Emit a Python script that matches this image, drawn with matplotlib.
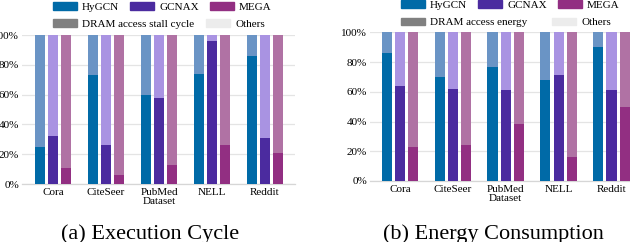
import numpy as np
import matplotlib.pyplot as plt
from matplotlib.patches import Patch

plt.rcParams['font.family'] = ['Liberation Serif', 'DejaVu Serif']

datasets = ['Cora', 'CiteSeer', 'PubMed\nDataset', 'NELL', 'Reddit']
accels = ['HyGCN', 'GCNAX', 'MEGA']

# share of DRAM access (dark part of each bar), in %
cycle_dram = {
    'HyGCN': [25, 73, 60, 74, 86],
    'GCNAX': [32, 26, 58, 96, 31],
    'MEGA': [11, 6, 13, 26, 21],
}
energy_dram = {
    'HyGCN': [86, 70, 77, 68, 90],
    'GCNAX': [64, 62, 61, 71, 61],
    'MEGA': [23, 24, 38, 16, 50],
}

dark = {'HyGCN': '#006aa7', 'GCNAX': '#4b2b9f', 'MEGA': '#922f82'}
light = {'HyGCN': '#6a94c5', 'GCNAX': '#a993e2', 'MEGA': '#b072a4'}
gray = '#808080'
others_c = '#ececec'

fig = plt.figure(figsize=(6.3, 2.42), dpi=100)

ax1 = fig.add_axes([22 / 630, 58 / 242, 273 / 630, 149 / 242])
ax2 = fig.add_axes([370 / 630, 61 / 242, 260 / 630, 148.7 / 242])

x = np.arange(len(datasets))
w = 0.19
off = 0.25


def draw(ax, data, xlim):
    for i, a in enumerate(accels):
        vals = np.array(data[a])
        pos = x + (i - 1) * off
        ax.bar(pos, vals, w, color=dark[a], zorder=3)
        ax.bar(pos, 100 - vals, w, bottom=vals, color=light[a], zorder=3)
    ax.set_ylim(0, 100)
    ax.set_xlim(*xlim)
    ax.set_yticks([0, 20, 40, 60, 80, 100])
    ax.set_yticklabels(['0%', '20%', '40%', '60%', '80%', '100%'])
    ax.set_xticks(x)
    ax.set_xticklabels(datasets, linespacing=1.0)
    ax.tick_params(axis='both', length=0, labelsize=8, pad=2)
    ax.tick_params(axis='x', pad=3)
    ax.grid(axis='y', color='#e4e4e4', linewidth=0.9, zorder=0)
    for s in ['top', 'right', 'left']:
        ax.spines[s].set_visible(False)
    ax.spines['bottom'].set_color('#d6d6d6')
    ax.spines['bottom'].set_linewidth(0.9)


draw(ax1, cycle_dram, (-0.59, 4.57))
draw(ax2, energy_dram, (-0.567, 4.35))

leg_kw = dict(loc='center left', frameon=False, borderpad=0, borderaxespad=0,
              fontsize=8, handlelength=2.16, handleheight=0.63,
              handletextpad=0.45, columnspacing=1.0,
              bbox_transform=fig.transFigure)


def legends(x0, x_others, y1, y2, dram_label):
    h1 = [Patch(color=dark[a], label=a) for a in accels]
    fig.legend(handles=h1, ncol=3, bbox_to_anchor=(x0, y1), **leg_kw)
    fig.legend(handles=[Patch(color=gray, label=dram_label)],
               bbox_to_anchor=(x0, y2), **leg_kw)
    fig.legend(handles=[Patch(color=others_c, label='Others')],
               bbox_to_anchor=(x_others, y2), **leg_kw)


legends(53 / 630, 206 / 630, 1 - 7 / 242, 1 - 24 / 242, 'DRAM access stall cycle')
legends(401 / 630, 552 / 630, 1 - 5 / 242, 1 - 22.7 / 242, 'DRAM access energy')

fig.text(150 / 630, 8 / 242, '(a) Execution Cycle', ha='center', va='center', fontsize=16)
fig.text(493 / 630, 8 / 242, '(b) Energy Consumption', ha='center', va='center', fontsize=16)

fig.savefig('out.png', dpi=100)
